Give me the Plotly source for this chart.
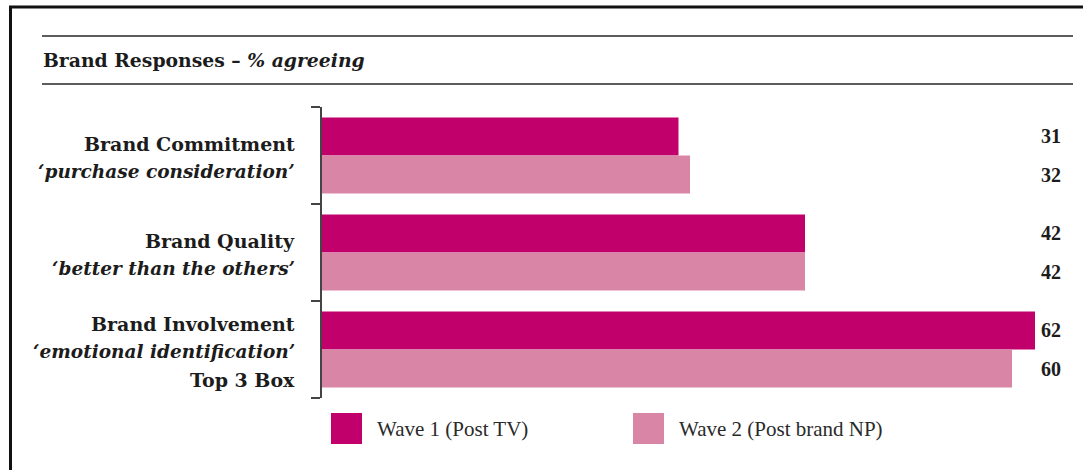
import plotly.graph_objects as go

# ---- data -------------------------------------------------------------
category_lines = [
    ["<b>Brand Commitment</b>", "<b><i>‘purchase consideration’</i></b>"],
    ["<b>Brand Quality</b>", "<b><i>‘better than the others’</i></b>"],
    ["<b>Brand Involvement</b>", "<b><i>‘emotional identification’</i></b>", "<b>Top 3 Box</b>"],
]
wave1_values = [31, 42, 62]
wave2_values = [32, 42, 60]
series_names = ["Wave 1 (Post TV)", "Wave 2 (Post brand NP)"]
title_text = "<b>Brand Responses – </b><b><i>% agreeing</i></b>"

# ---- styling ----------------------------------------------------------
W, H = 1083, 470
L, R, T, B = 322, 25, 107, 72
PW, PH = W - L - R, H - T - B
X_MAX = 64
FONT = "Liberation Serif"
LABEL_FONT = "DejaVu Serif"
TXT = "#1c1c1c"
C1 = "#C2006C"
C2 = "#D986A6"
BARGAP = 0.216


def px(xp):
    return (xp - L) / PW


def py(yp):
    return (H - B - yp) / PH


ypos = list(range(len(category_lines)))

fig = go.Figure()
fig.add_trace(go.Bar(y=ypos, x=wave1_values, orientation="h", name=series_names[0],
                     marker=dict(color=C1, line=dict(width=0)), showlegend=False))
fig.add_trace(go.Bar(y=ypos, x=wave2_values, orientation="h", name=series_names[1],
                     marker=dict(color=C2, line=dict(width=0)), showlegend=False))

annotations = []
shapes = []

# value labels at the centre of each bar, right aligned near the edge
half = (1 - BARGAP) / 4
for i in ypos:
    for vals, off in ((wave1_values, -half), (wave2_values, half)):
        annotations.append(dict(
            x=px(1063), xref="paper", xanchor="right",
            y=i + off, yref="y", yanchor="middle",
            text=f"<b>{vals[i]}</b>", showarrow=False,
            font=dict(family=FONT, size=20, color=TXT)))

# category labels, one annotation per line (italic lines set a touch smaller)
LINE_H = 28
for i, lines in enumerate(category_lines):
    n = len(lines)
    for k, line in enumerate(lines):
        offset = (k - (n - 1) / 2) * LINE_H + 2
        size = 18.5 if "<i>" in line else 19
        annotations.append(dict(
            x=px(297), xref="paper", xanchor="right",
            y=i, yref="y", yanchor="middle", yshift=-offset,
            text=line, showarrow=False,
            font=dict(family=LABEL_FONT, size=size, color=TXT)))

# heading
annotations.append(dict(
    x=px(41), xref="paper", xanchor="left",
    y=py(60), yref="paper", yanchor="middle",
    text=title_text, showarrow=False,
    font=dict(family=LABEL_FONT, size=18.8, color=TXT)))

# legend: swatches plus labels
for name, col, x0 in ((series_names[0], C1, 331), (series_names[1], C2, 633)):
    shapes.append(dict(type="rect", xref="paper", yref="paper",
                       x0=px(x0), x1=px(x0 + 31), y0=py(444), y1=py(413),
                       fillcolor=col, line=dict(width=0)))
    annotations.append(dict(
        x=px(x0 + 44), xref="paper", xanchor="left",
        y=py(429), yref="paper", yanchor="middle",
        text=name, showarrow=False,
        font=dict(family=FONT, size=21, color="#2a2a2a")))

# heading rules
for yy in (36, 84):
    shapes.append(dict(type="line", xref="paper", yref="paper",
                       x0=px(42), x1=px(1073), y0=py(yy), y1=py(yy),
                       line=dict(color="#5c5c5c", width=2)))

# frame: top and left edges
shapes.append(dict(type="line", xref="paper", yref="paper",
                   x0=px(9), x1=px(W), y0=py(7), y1=py(7),
                   line=dict(color="#111111", width=3)))
shapes.append(dict(type="line", xref="paper", yref="paper",
                   x0=px(10.5), x1=px(10.5), y0=py(6), y1=py(H),
                   line=dict(color="#111111", width=3)))

fig.update_layout(
    width=W, height=H,
    margin=dict(l=L, r=R, t=T, b=B, pad=0),
    paper_bgcolor="white", plot_bgcolor="white",
    barmode="group", bargap=BARGAP, bargroupgap=0,
    showlegend=False,
    xaxis=dict(range=[0, X_MAX], visible=False, fixedrange=True),
    yaxis=dict(range=[len(category_lines) - 0.5, -0.5],
               tickvals=[i - 0.5 for i in range(len(category_lines) + 1)],
               showticklabels=False, ticks="outside", ticklen=9,
               tickcolor="#444444", tickwidth=1.5,
               showline=True, linecolor="#444444", linewidth=1.5,
               showgrid=False, zeroline=False, fixedrange=True),
    annotations=annotations, shapes=shapes,
)

fig.write_html("out.html", config={"displayModeBar": False})
